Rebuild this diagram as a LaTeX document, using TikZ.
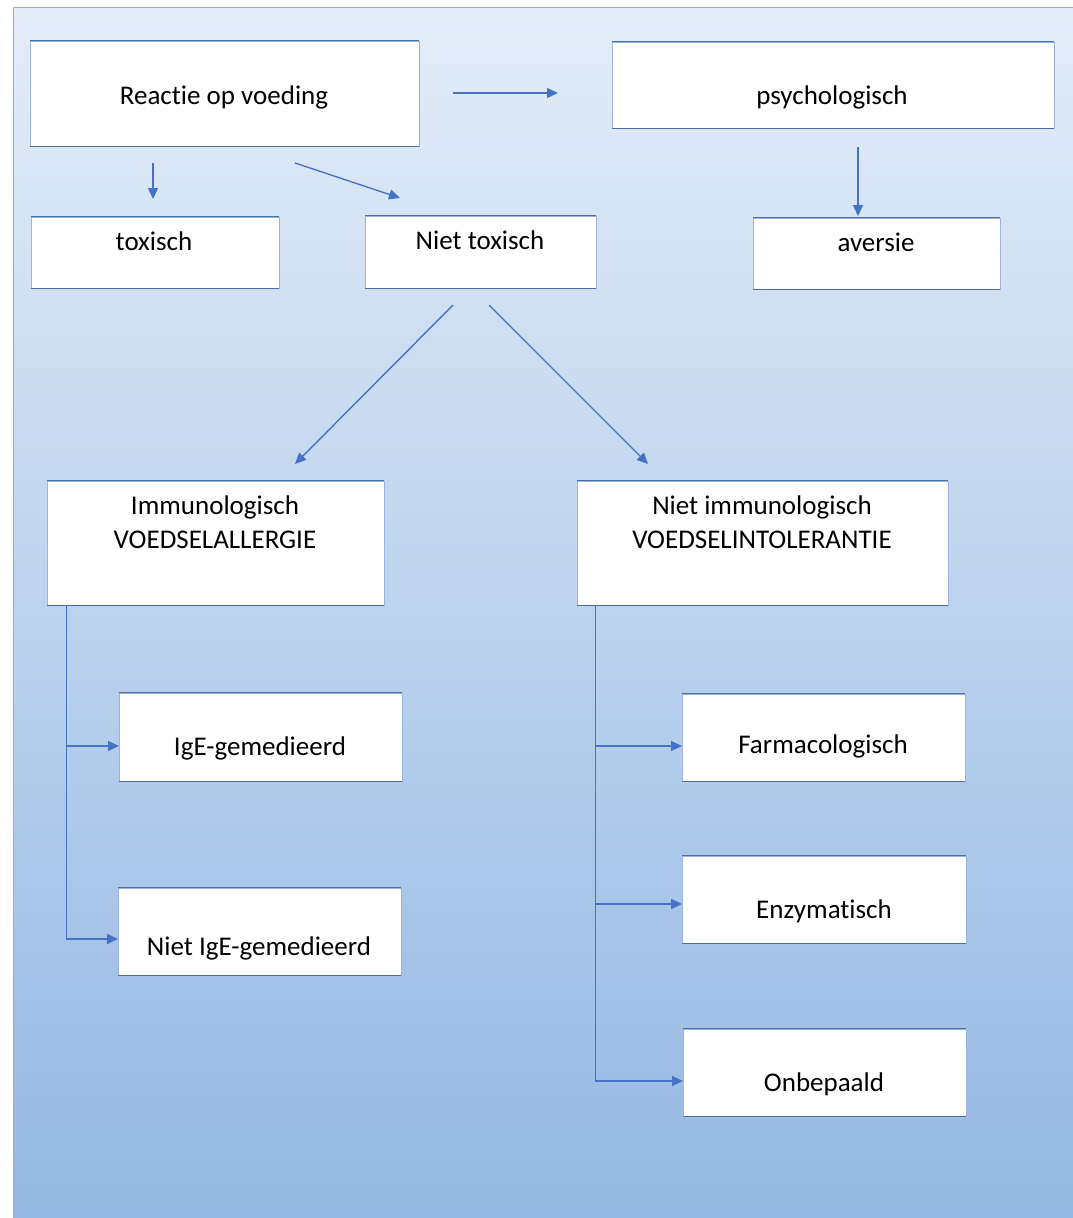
\documentclass[tikz,border=0pt]{standalone}
\usepackage{fontspec}
\setmainfont{Carlito}[Ligatures=NoCommon]
\usetikzlibrary{arrows.meta}
\definecolor{bgtop}{HTML}{E4EDF8}
\definecolor{bgbot}{HTML}{94B8E3}
\definecolor{framec}{HTML}{8DAEDC}
\definecolor{connc}{HTML}{4472C4}
\definecolor{edgec}{HTML}{4D6DA8}
\definecolor{sidec}{HTML}{9BB4DC}
\begin{document}
\begin{tikzpicture}[x=1pt,y=-1pt,
  box/.style={draw=sidec, line width=0.8pt, fill=white, inner sep=0pt},
  lbl/.style={anchor=base, inner sep=0pt, font=\fontsize{27}{34}\selectfont, text=black},
  conn/.style={draw=connc, line width=1.4pt},
  arr/.style={conn, -{Triangle[length=11pt,width=10pt]}}]
\useasboundingbox (0,0) rectangle (1073,1218);
\fill[white] (0,0) rectangle (1073,1218);
\shade[top color=bgtop, bottom color=bgbot] (13,7) rectangle (1073,1218);
\draw[framec, line width=1pt] (13,1218) -- (13,7) -- (1073,7);

% boxes
\node[box, minimum width=389, minimum height=105] (reactie) at (224.5,93.5) {};
\node[box, minimum width=442, minimum height=86] (psych) at (833,85) {};
\node[box, minimum width=248, minimum height=71] (toxisch) at (155,252.5) {};
\node[box, minimum width=231, minimum height=72] (niettox) at (480.5,252) {};
\node[box, minimum width=247, minimum height=71] (aversie) at (876.5,253.5) {};
\node[box, minimum width=337, minimum height=124] (immuno) at (215.5,543) {};
\node[box, minimum width=371, minimum height=124] (nietimm) at (762.5,543) {};
\node[box, minimum width=283, minimum height=88] (ige) at (260.5,737) {};
\node[box, minimum width=283, minimum height=87] (nietige) at (259.5,931.5) {};
\node[box, minimum width=283, minimum height=87] (farma) at (823.5,737.5) {};
\node[box, minimum width=284, minimum height=87] (enzym) at (824,899.5) {};
\node[box, minimum width=283, minimum height=87] (onbep) at (824.5,1072.5) {};

\foreach \n in {reactie,psych,toxisch,niettox,aversie,immuno,nietimm,ige,nietige,farma,enzym,onbep}{
  \draw[edgec, line width=1.4pt] (\n.north west) -- (\n.north east) (\n.south west) -- (\n.south east);
}

% labels
\node[lbl] (treactie) at (224,104) {Reactie op voeding};
\node[lbl] (tpsych) at (832,104) {psychologisch};
\node[lbl] (ttoxisch) at (154,250) {toxisch};
\node[lbl] (tniettox) at (480,249) {Niet toxisch};
\node[lbl] (taversie) at (876,251) {aversie};
\node[lbl] (timmuno1) at (215,514) {Immunologisch};
\node[lbl] (timmuno2) at (215,548) {VOEDSELALLERGIE};
\node[lbl] (tnietimm1) at (762,514) {Niet immunologisch};
\node[lbl] (tnietimm2) at (762,548) {VOEDSELINTOLERANTIE};
\node[lbl] (tige) at (260,755) {IgE-gemedieerd};
\node[lbl] (tnietige) at (259,955) {Niet IgE-gemedieerd};
\node[lbl] (tfarma) at (823,753) {Farmacologisch};
\node[lbl] (tenzym) at (824,918) {Enzymatisch};
\node[lbl] (tonbep) at (824,1091) {Onbepaald};

% free-standing arrow ends
\coordinate (a1s) at (453,93);  \coordinate (a1e) at (558,93);
\coordinate (a2s) at (153,163); \coordinate (a2e) at (153,199);
\coordinate (a3s) at (295,163); \coordinate (a3e) at (400,198);
\coordinate (a4s) at (858,147); \coordinate (a4e) at (858,216);
\coordinate (a5s) at (453,305); \coordinate (a5e) at (295,464);
\coordinate (a6s) at (489,305); \coordinate (a6e) at (648,464);
\draw[arr] (a1s) -- (a1e);
\draw[arr] (a2s) -- (a2e);
\draw[arr] (a3s) -- (a3e);
\draw[arr] (a4s) -- (a4e);
\draw[arr] (a5s) -- (a5e);
\draw[arr] (a6s) -- (a6e);

% left bracket
\coordinate (lt) at (66,605);
\coordinate (l1) at (66,746);
\coordinate (l2) at (66,939);
\coordinate (ige1) at (119,746);
\coordinate (nietige1) at (118,939);
\draw[conn, line width=1pt] (lt) -- (l2);
\draw[arr] (l1) -- (ige1);
\draw[arr] (l2) -- (nietige1);

% right bracket
\coordinate (rt) at (595,605);
\coordinate (r1) at (595,746);
\coordinate (r2) at (595,904);
\coordinate (r3) at (595,1081);
\coordinate (farma1) at (682,746);
\coordinate (enzym1) at (682,904);
\coordinate (onbep1) at (683,1081);
\draw[conn, line width=1pt] (rt) -- (r3);
\draw[arr] (r1) -- (farma1);
\draw[arr] (r2) -- (enzym1);
\draw[arr] (r3) -- (onbep1);
\end{tikzpicture}
\end{document}
